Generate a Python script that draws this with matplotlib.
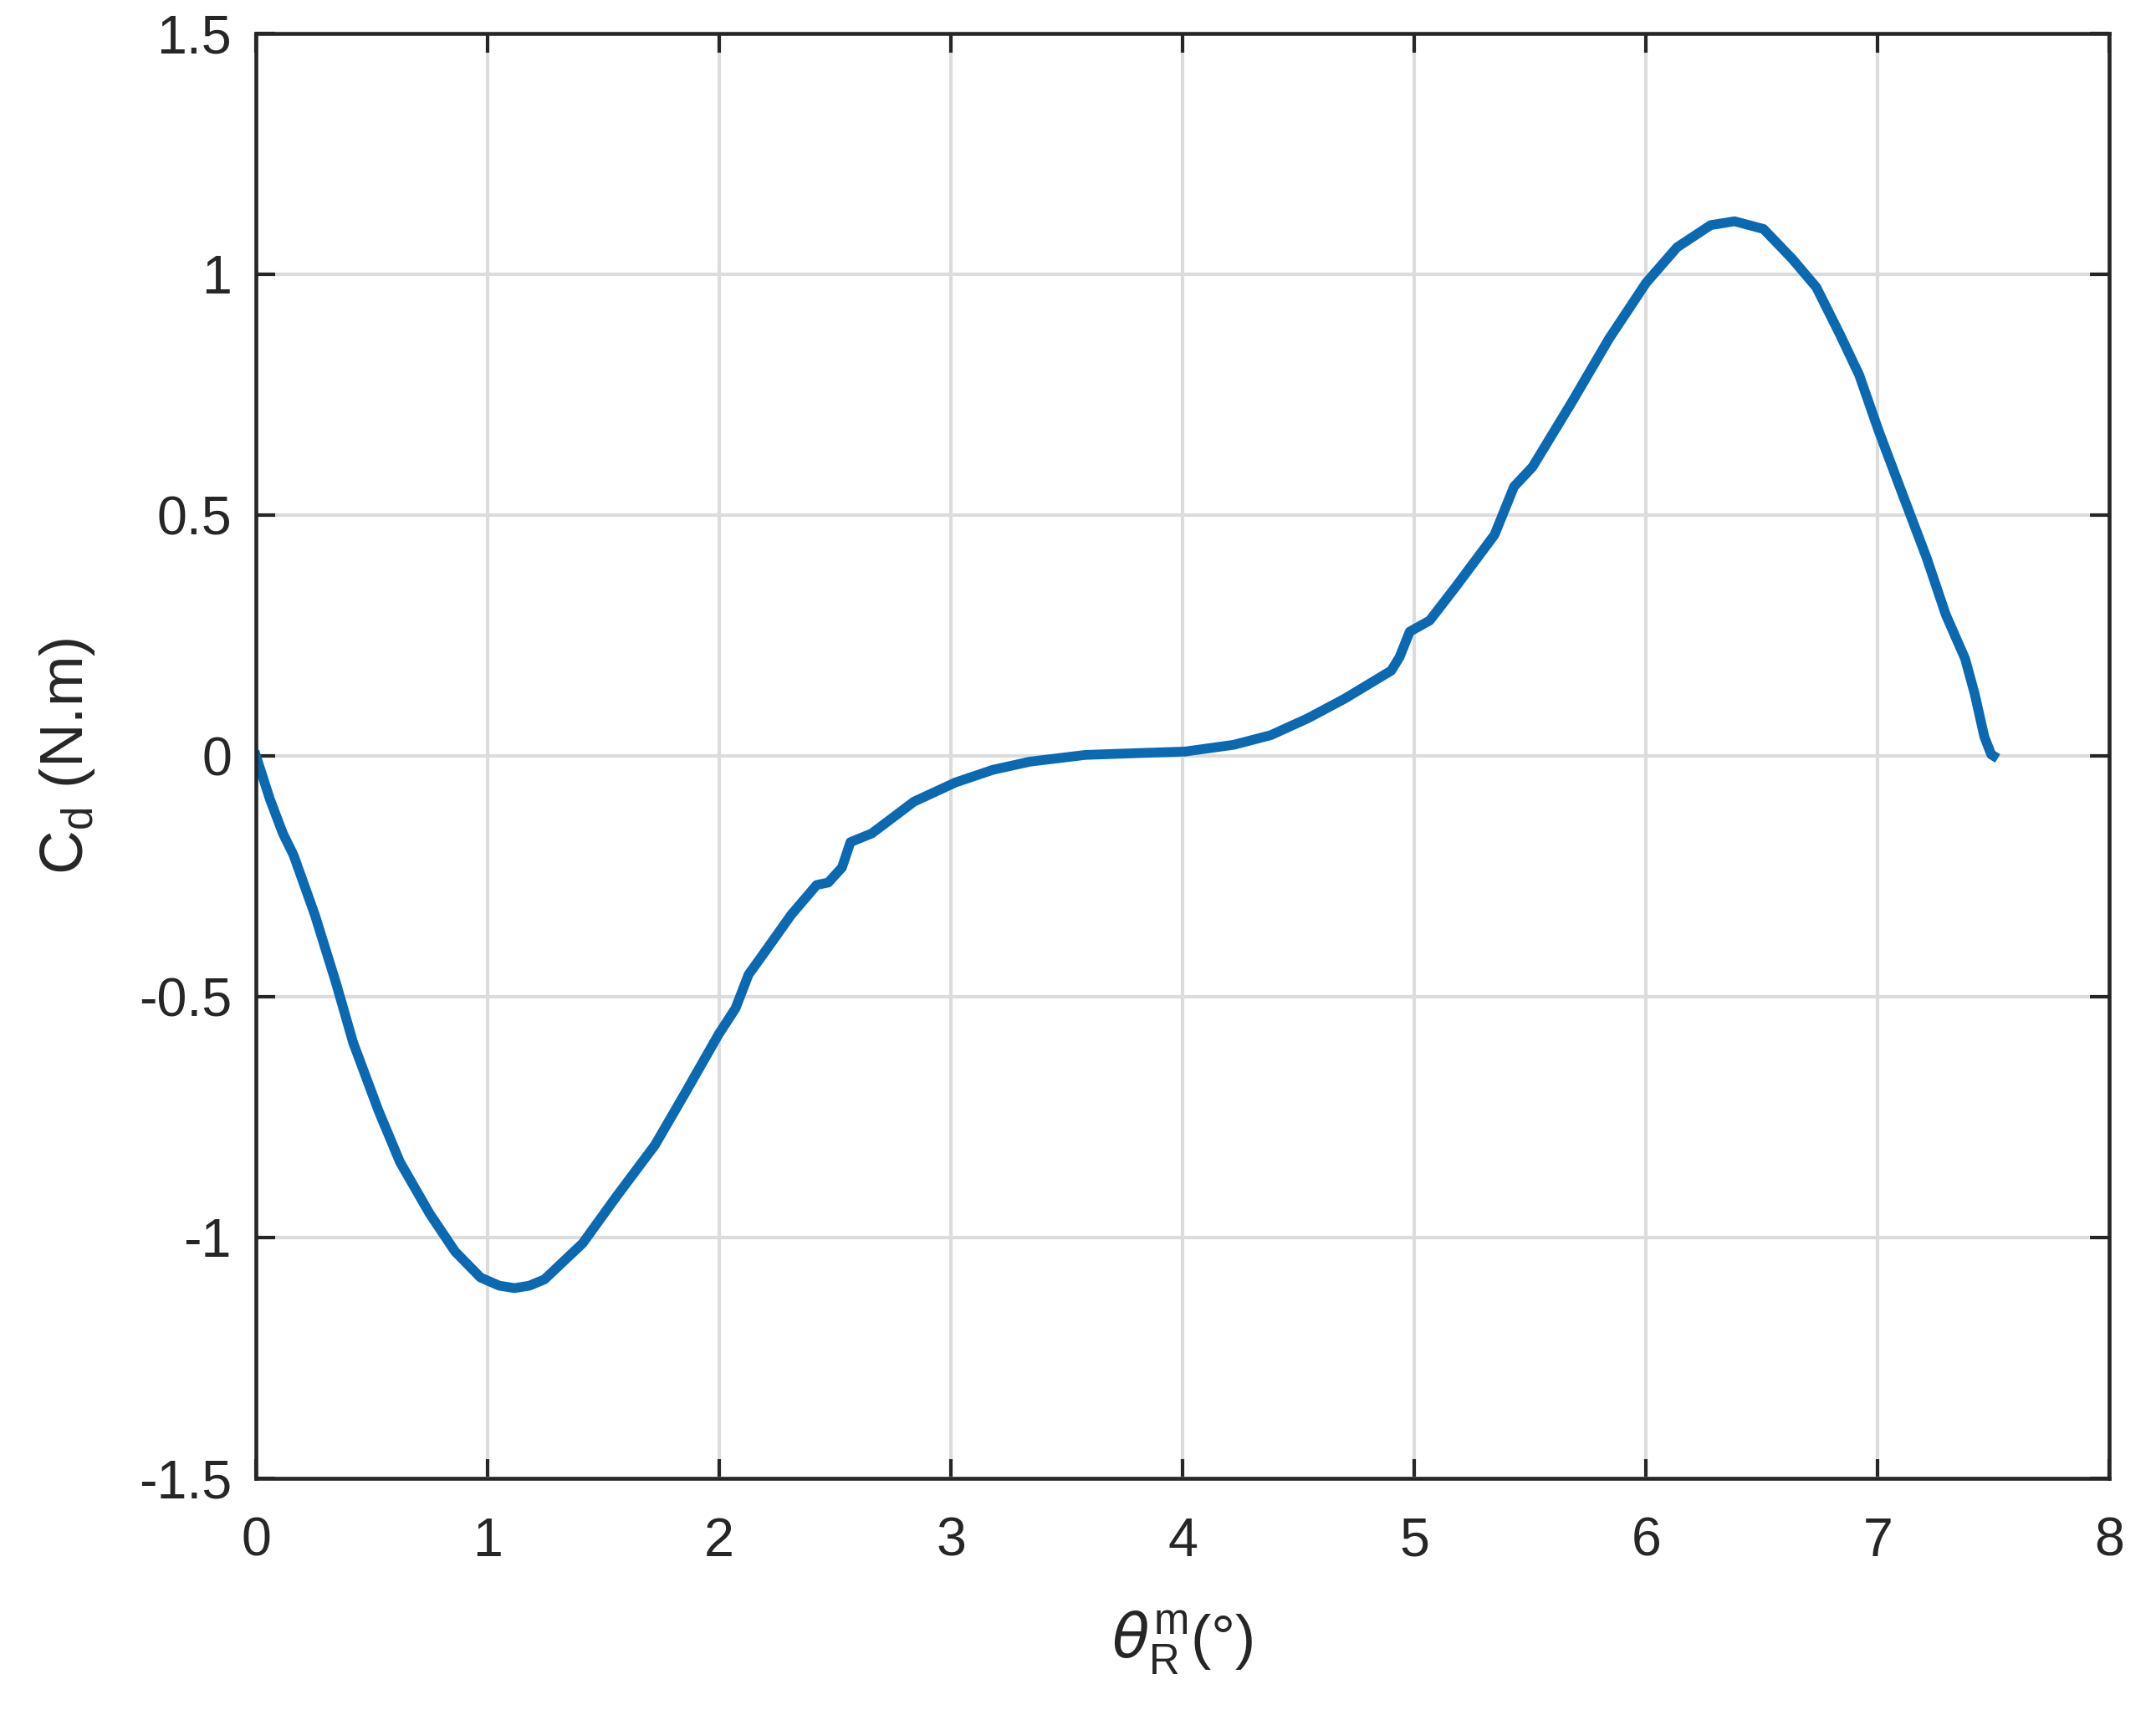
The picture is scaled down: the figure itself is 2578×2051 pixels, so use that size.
import matplotlib
matplotlib.use("Agg")
from matplotlib import pyplot as plt

# curve (theta in degrees, torque in N.m)
theta = [0, 0.06, 0.116, 0.162, 0.254, 0.345, 0.419, 0.529, 0.621, 0.749,
         0.859, 0.969, 1.05, 1.116, 1.18, 1.245, 1.41, 1.557, 1.722, 1.85,
         1.997, 2.07, 2.126, 2.18, 2.31, 2.42, 2.47, 2.529, 2.566, 2.658,
         2.84, 3.02, 3.18, 3.34, 3.58, 3.82, 4.01, 4.22, 4.38, 4.54,
         4.70, 4.90, 4.936, 4.98, 5.066, 5.18, 5.346, 5.43, 5.51, 5.678,
         5.84, 6.0, 6.134, 6.279, 6.382, 6.507, 6.631, 6.735, 6.838, 6.92,
         7.004, 7.108, 7.212, 7.294, 7.377, 7.419, 7.46, 7.49, 7.5]
cd = [0, -0.09, -0.161, -0.206, -0.33, -0.471, -0.595, -0.737, -0.843, -0.95,
      -1.029, -1.083, -1.1, -1.105, -1.1, -1.087, -1.012, -0.914, -0.808, -0.702,
      -0.578, -0.524, -0.454, -0.418, -0.33, -0.268, -0.263, -0.232, -0.179, -0.161,
      -0.095, -0.055, -0.029, -0.012, 0.002, 0.006, 0.009, 0.023, 0.043, 0.078,
      0.119, 0.177, 0.205, 0.258, 0.281, 0.352, 0.459, 0.559, 0.6, 0.733,
      0.866, 0.982, 1.056, 1.102, 1.11, 1.094, 1.032, 0.973, 0.874, 0.791,
      0.675, 0.542, 0.41, 0.293, 0.202, 0.128, 0.04, 0.003, 0]

xticks = [0, 1, 2, 3, 4, 5, 6, 7, 8]
yticks = [-1.5, -1, -0.5, 0, 0.5, 1, 1.5]
ytick_labels = ["-1.5", "-1", "-0.5", "0", "0.5", "1", "1.5"]

plt.rcParams["font.family"] = ["Liberation Sans", "DejaVu Sans"]
plt.rcParams["mathtext.fontset"] = "custom"
plt.rcParams["mathtext.rm"] = "Liberation Sans"
plt.rcParams["mathtext.it"] = "DejaVu Sans:italic"

dark = "#262626"

fig = plt.figure(figsize=(2579 / 300, 2051 / 300), dpi=300)
ax = fig.add_axes([0.1187, 0.138, 0.978 - 0.1187, 0.9805 - 0.138])

ax.plot(theta, cd, color="#0a69b0", linewidth=2.8, solid_joinstyle="round")

ax.set_xlim(0, 8)
ax.set_ylim(-1.5, 1.5)
ax.set_xticks(xticks)
ax.set_yticks(yticks)
ax.set_yticklabels(ytick_labels)
ax.grid(True, color="#dcdcdc", linewidth=1.0)
ax.set_axisbelow(True)

ax.tick_params(direction="in", length=5.5, width=1.0, colors=dark,
               labelsize=15.5, top=True, right=True, pad=7)
ax.tick_params(axis="x", pad=11)
for s in ax.spines.values():
    s.set_color(dark)
    s.set_linewidth(1.1)

ax.set_xlabel(r"$\theta^{\rm m}_{\rm R}$(°)", fontsize=17.5, color=dark, labelpad=12)
ax.set_ylabel(r"C$_{\rm d}$ (N.m)", fontsize=17.5, color=dark, labelpad=12)

fig.savefig("out.png", dpi=300, facecolor="white")
